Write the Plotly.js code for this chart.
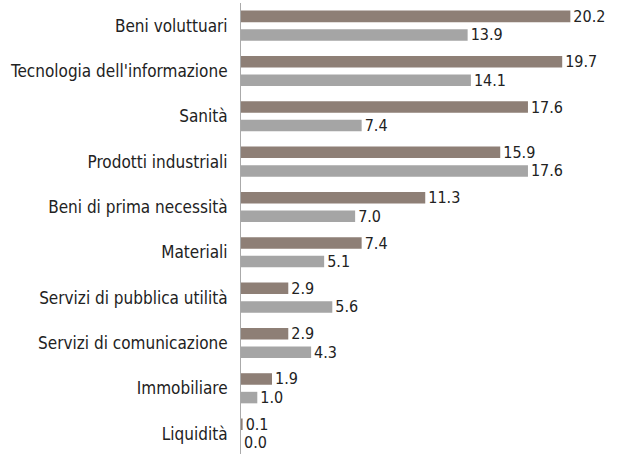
<!DOCTYPE html>
<html><head><meta charset="utf-8">
<script src="https://cdn.plot.ly/plotly-3.0.1.min.js"></script>
<style>html,body{margin:0;padding:0;background:#fff}</style>
</head><body>
<div id="chart" style="width:622px;height:454px"></div>
<script>
const categories = ["Beni voluttuari","Tecnologia dell'informazione","Sanità","Prodotti industriali","Beni di prima necessità","Materiali","Servizi di pubblica utilità","Servizi di comunicazione","Immobiliare","Liquidità"];
const seriesA = [20.2,19.7,17.6,15.9,11.3,7.4,2.9,2.9,1.9,0.1];
const seriesB = [13.9,14.1,7.4,17.6,7.0,5.1,5.6,4.3,1.0,0.0];
const font = "'DejaVu Sans Condensed', 'DejaVu Sans', sans-serif";
const mk = (vals, color) => ({
  type:'bar', orientation:'h', y:categories, x:vals,
  marker:{color:color},
  text: vals.map(v=>v.toFixed(1)), textposition:'outside', cliponaxis:false, constraintext:'none',
  textfont:{family:font,size:16,color:'#222'}, hoverinfo:'none'
});
Plotly.newPlot('chart',[mk(seriesA,'#8E7F76'), mk(seriesB,'#A5A5A5')],{
  width:622,height:454,
  margin:{l:241,r:6,t:3,b:0},
  barmode:'group', bargap:0.18, bargroupgap:0.38,
  showlegend:false,
  paper_bgcolor:'#fff', plot_bgcolor:'#fff',
  xaxis:{range:[0,23],visible:false,showgrid:false,zeroline:false},
  yaxis:{range:[9.45,-0.5],showline:true,linecolor:'#AAA',linewidth:1,ticks:'',showgrid:false,
    tickfont:{family:font,size:17,color:'#222'},ticklabelstandoff:9}
},{displayModeBar:false,staticPlot:true});
</script>
</body></html>
